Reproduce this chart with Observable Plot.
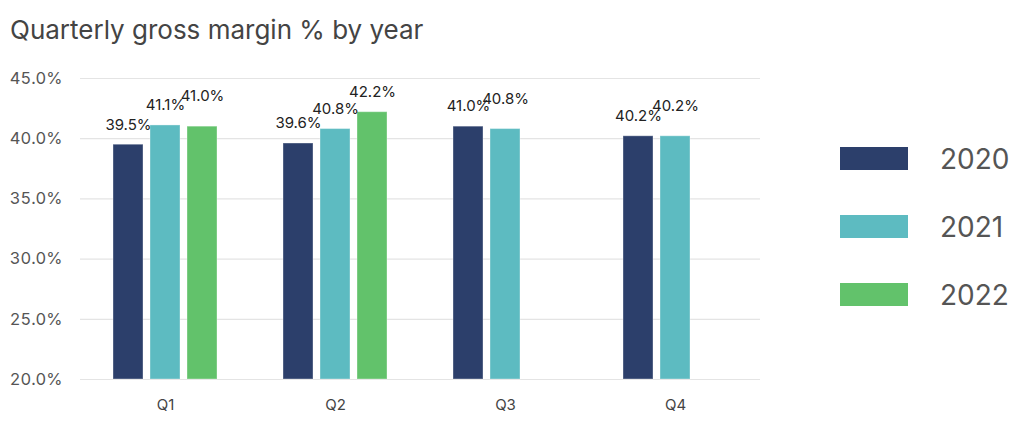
<!DOCTYPE html>
<html>
<head>
<meta charset="utf-8">
<script src="https://cdn.jsdelivr.net/npm/d3@7"></script>
<script src="https://cdn.jsdelivr.net/npm/@observablehq/plot@0.6"></script>
<style>
  html, body { margin: 0; padding: 0; background: #fff; }
  #wrap { position: relative; width: 1027px; height: 425px; font-family: Inter, "Noto Sans", sans-serif; }
  #title { position: absolute; left: 10px; top: 14px; font-size: 26px; color: #444; }
  #chart { position: absolute; left: 0; top: 55px; }
  #legend { position: absolute; left: 840px; top: 147px; }
  .item { display: flex; align-items: center; height: 23px; margin-bottom: 45px; }
  .sw { width: 68px; height: 23px; }
  .lab { margin-left: 32px; font-size: 28px; color: #555; }
</style>
</head>
<body>
<div id="wrap">
  <div id="title">Quarterly gross margin % by year</div>
  <div id="chart"></div>
  <div id="legend"></div>
</div>
<script>
const quarters = ["Q1", "Q2", "Q3", "Q4"];
const years = ["2020", "2021", "2022"];
const v2020 = [39.5, 39.6, 41.0, 40.2];
const v2021 = [41.1, 40.8, 40.8, 40.2];
const v2022 = [41.0, 42.2, null, null];
const yTicks = [20, 25, 30, 35, 40, 45];
const colors = ["#2c3f6b", "#5dbbc1", "#62c26b"];

const series = [v2020, v2021, v2022];
const data = [];
quarters.forEach((q, qi) => {
  let prev = null;
  years.forEach((y, yi) => {
    const v = series[yi][qi];
    if (v == null) return;
    const shifted = prev != null && Math.abs(v - prev) < 0.5;
    data.push({quarter: q, year: y, value: v, shifted});
    prev = v;
  });
});

const fmt = d => d.toFixed(1) + "%";

const chart = Plot.plot({
  width: 780,
  height: 370,
  marginLeft: 80,
  marginRight: 20,
  marginTop: 23,
  marginBottom: 46,
  style: { fontFamily: "Inter, 'Noto Sans', sans-serif", background: "transparent" },
  fx: { domain: quarters, padding: 0, label: null },
  x: { domain: years, paddingInner: 0.2, paddingOuter: 0.85, axis: null },
  y: { domain: [20, 45], label: null },
  color: { domain: years, range: colors },
  marks: [
    Plot.gridY(yTicks, { stroke: "#e4e4e4", strokeOpacity: 1, strokeWidth: 1.2 }),
    Plot.axisY(yTicks, { tickSize: 0, tickPadding: 18, tickFormat: fmt, fontSize: 16.5, fill: "#555", label: null }),
    Plot.axisFx({ anchor: "bottom", tickSize: 0, tickPadding: 20, fontSize: 15, fill: "#444", label: null }),
    Plot.barY(data, { fx: "quarter", x: "year", y1: 20, y2: "value", fill: "year", stroke: "white", strokeOpacity: 0.35, strokeWidth: 1 }),
    Plot.text(data.filter(d => !d.shifted), { fx: "quarter", x: "year", y: "value", text: d => fmt(d.value), dy: -20, fontSize: 15, fill: "#222" }),
    Plot.text(data.filter(d => d.shifted), { fx: "quarter", x: "year", y: "value", text: d => fmt(d.value), dy: -30, fontSize: 15, fill: "#222" })
  ]
});
document.getElementById("chart").appendChild(chart);

const legend = document.getElementById("legend");
years.forEach((y, i) => {
  const item = document.createElement("div");
  item.className = "item";
  item.innerHTML = `<div class="sw" style="background:${colors[i]}"></div><div class="lab">${y}</div>`;
  legend.appendChild(item);
});
</script>
</body>
</html>
